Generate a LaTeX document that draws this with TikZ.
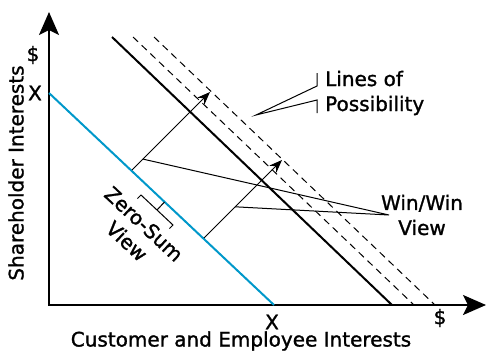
\documentclass[tikz,border=0pt]{standalone}
\usepackage{fontspec}
\setmainfont{DejaVu Sans}
\newfontfamily\comic{DejaVu Sans}[FakeBold=1.3]
\usetikzlibrary{arrows.meta}
\definecolor{zsblue}{RGB}{0,152,202}

\begin{document}
\begin{tikzpicture}
[
    x=1pt, y=-1pt,
    axis/.style={line width=2pt, {Stealth[length=23pt, width=20pt, inset=5pt]}-{Stealth[length=23pt, width=20pt, inset=5pt]}},
    bound/.style={line width=2pt},
    zerosum/.style={line width=2pt, draw=zsblue},
    possible/.style={line width=1pt, dash pattern=on 7pt off 5pt},
    gain/.style={line width=1pt, -{Stealth[length=13pt, width=10pt]}},
    callout/.style={line width=1pt},
    txt/.style={font=\comic\fontsize{20}{25}\selectfont, inner sep=0pt},
]
\useasboundingbox (0,0) rectangle (486,354);

% axes
\coordinate (O) at (49,305);
\coordinate (ytip) at (49,12);
\coordinate (xtip) at (486,305);
\draw[axis] (ytip) -- (O) -- (xtip);

% zero-sum line and the lines of possibility
\coordinate (zs1) at (49,93);
\coordinate (zs2) at (274,305);
\coordinate (b1) at (112,37);
\coordinate (b2) at (392,305);
\coordinate (p1) at (133,37);
\coordinate (p2) at (414,305);
\coordinate (q1) at (154,37);
\coordinate (q2) at (435,305);
\draw[zerosum] (zs1) -- (zs2);
\draw[bound] (b1) -- (b2);
\draw[possible] (p1) -- (p2);
\draw[possible] (q1) -- (q2);

% gains
\coordinate (g1s) at (132,170);
\coordinate (g1e) at (210,92);
\coordinate (g2s) at (204,238);
\coordinate (g2e) at (282,160);
\draw[gain] (g1s) -- (g1e) coordinate[pos=0.14] (w1);
\draw[gain] (g2s) -- (g2e) coordinate[pos=0.4] (w2);

% tick labels
\node[txt] (ydollar) at (33,55) {\$};
\node[txt] (yx) at (35,93) {X};
\node[txt] (xx) at (272,322) {X};
\node[txt] (xdollar) at (440,318) {\$};
\node[txt, rotate=90] (ylab) at (16,173) {Shareholder Interests};
\node[txt] (xlab) at (241,341) {Customer and Employee Interests};

% callouts
\coordinate (lp) at (256,115);
\draw[callout] (317,73) -- (317,86) -- (lp) -- (317,100) -- (317,113);
\node[txt, anchor=west, align=left] (lplab) at (325,93) {Lines of\\Possibility};

\coordinate (ww) at (389,215);
\draw[callout] (w1) -- (ww) -- (w2);
\node[txt, align=center] (wwlab) at (422,215) {Win/Win\\View};

\draw[callout] (137.5,198.5) -- (141,195) -- (173,225) -- (169.5,228.5);
\draw[callout] (157,210) -- (164.5,202);
\node[txt, rotate=-43] (zstop) at (144,224) {Zero-Sum};
\node[txt, rotate=-43] (zsbot) at (127,241) {View};
\end{tikzpicture}
\end{document}
